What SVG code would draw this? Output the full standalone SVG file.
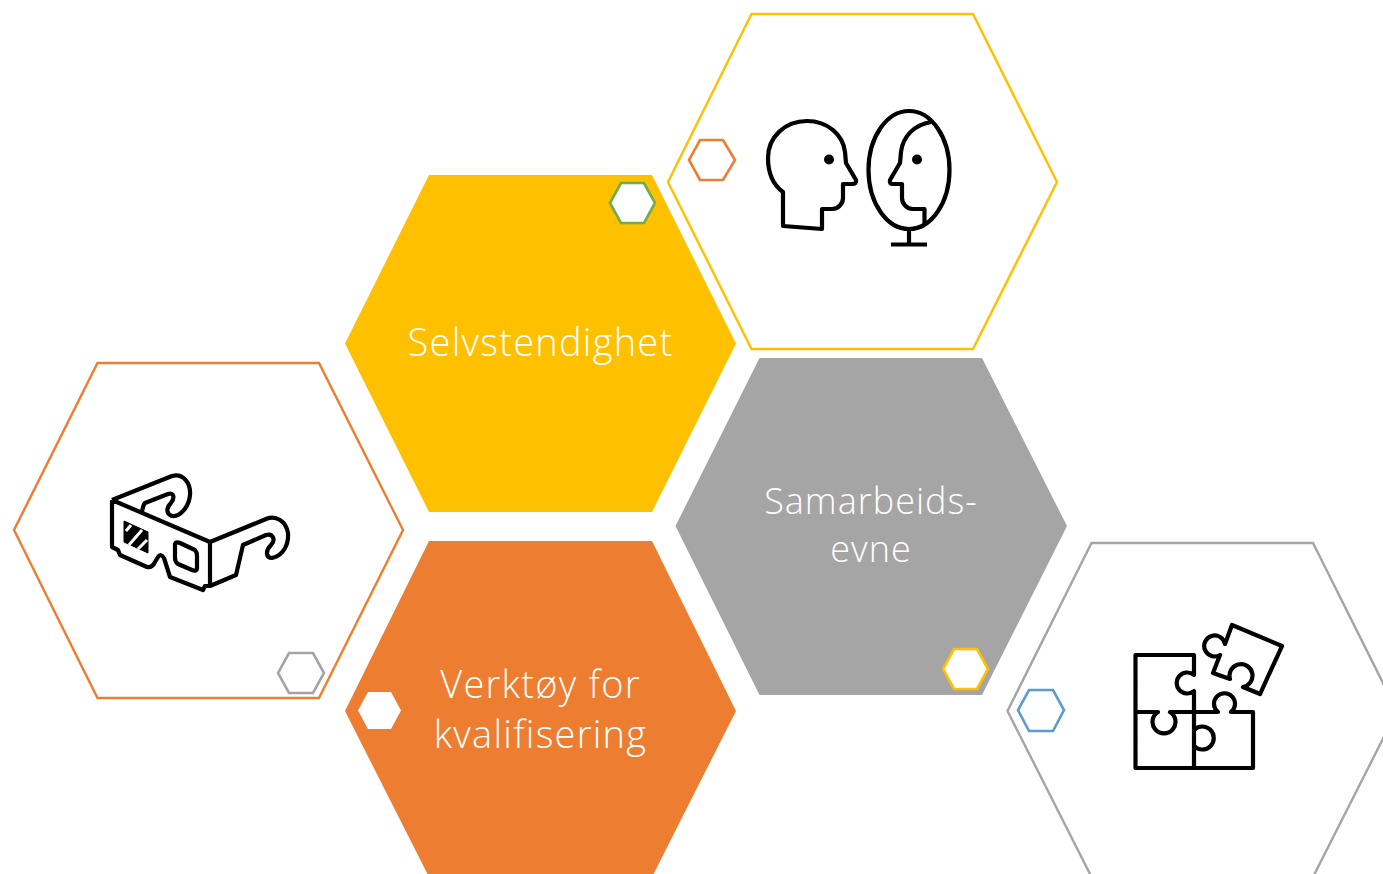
<svg xmlns="http://www.w3.org/2000/svg" width="1383" height="874" viewBox="0 0 1383 874">
<style>
.o{fill:#fff;stroke-width:2.4}
.s{fill:#fff;stroke-width:2.6}
.i{fill:none;stroke:#000;stroke-width:4.2;stroke-linejoin:round;stroke-linecap:butt}
.t{font-family:"Open Sans","Noto Sans",sans-serif;font-weight:300;fill:#fff;text-anchor:middle}
.a{font-size:38px;letter-spacing:1.25px}
.b{font-size:36px;letter-spacing:1px}
</style>
<rect width="1383" height="874" fill="#fff"/>
<g id="node-speil">
<polygon class="o" stroke="#FFC000" points="751.500,14 973,14 1057,182 973,349 751.500,349 668,182"/>
<g id="icon-speil">
<path class="i" d="M783,226V192C772,184 768,172 768,158C768,137 785,121 807,121C828,121 843,135 845,152L846,163L856,180Q857,184 852,184H843V198C843,204 838,209 832,209H822V229Z"/>
<ellipse class="i" cx="909" cy="170" rx="40.500" ry="59"/>
<path class="i" d="M931,122C914,125 903,136 901,152L900,163L890,180Q889,184 893,184H902V198C902,204 907,209 913,209H924.500V224M909,229V244.500M891,244.500H927"/>
<circle cx="829" cy="159.500" r="5"/>
<circle cx="917" cy="159.500" r="5"/>
</g>
</g>
<g id="node-selvstendighet">
<polygon fill="#FFC000" points="429,175 652,175 736,343.500 652,512 429,512 345,343.500"/>
<text class="t a" x="540.500" y="355.700">Selvstendighet</text>
</g>
<g id="node-samarbeidsevne">
<polygon fill="#A5A5A5" points="759.500,358 982,358 1067,526 982,695 759.500,695 675.500,526"/>
<text class="t b" x="871" y="513.700">Samarbeids-</text>
<text class="t b" x="871" y="561.700">evne</text>
</g>
<g id="node-verktoy">
<polygon fill="#ED7D31" points="429,541 652,541 736,711 652,877 429,877 345,711"/>
<text class="t a" x="540.500" y="697.700">Verktøy for</text>
<text class="t a" x="540.500" y="747.700">kvalifisering</text>
</g>
<g id="node-briller">
<polygon class="o" stroke="#ED7D31" points="97.500,363 319,363 403,530 319,698 97.500,698 14,530"/>
<g id="icon-briller">
<path class="i" d="M112,500L210,542V586M112,500V547L118,550L120,555L147,567Q152,568 155,562L158,557Q161,553 164,558L170,577L198,588L203,590L205,586L210,586L236,575L243,545L266,535C273,533 276,540 271,545C265,551 266,558 272,558C282,556 289,546 288,533C286,521 276,515 266,519L210,542"/>
<path class="i" d="M112,500L172,476C183,473 191,483 190,495C189,507 180,517 172,516C166,514 166,508 171,503C175,498 174,492 168,494L145,503Q143,505 142,512"/>
<polygon points="124,521 148,532 148,553 124,542" fill="#000" stroke="#000" stroke-width="1"/>
<path d="M126,531L131,525M129,545L142,530M138,549L147,540" stroke="#fff" stroke-width="3" fill="none"/>
<path class="i" d="M175,545Q175,541 180,543L195,550Q197,552 197,556V568Q197,572 192,570L178,564Q175,562 175,558Z"/>
</g>
</g>
<g id="node-puslespill">
<polygon class="o" stroke="#A5A5A5" points="1091.500,543 1313,543 1397,711 1313,877 1091.500,877 1007.500,711"/>
<g id="icon-puslespill">
<path class="i" d="M1135.500,655H1194V675A10.500,10.500 0 1 0 1194,691V768H1135.500ZM1135.500,712H1158A11.500,11.500 0 1 0 1170,712H1218A10.500,10.500 0 1 1 1231,712H1253V768H1194V746A11.500,11.500 0 1 0 1194,730"/>
<path class="i" d="M1232,625L1282,646L1260,694L1243,687A11.500,11.500 0 1 0 1230,679L1213,673L1220,655A10.500,10.500 0 1 1 1225,644Z"/>
</g>
</g>
<g id="badges">
<polygon class="s" stroke="#ED7D31" points="700,140 723,140 735,160 723,180 700,180 689,160"/>
<polygon class="s" stroke="#70AD47" points="621,183 644,183 655,203 644,223 621,223 610,203"/>
<polygon class="s" stroke="#A5A5A5" points="289,653 313,653 324,673 313,693 289,693 278,673"/>
<polygon class="s" stroke="#FFC000" points="954,649 977,649 988,669 977,689 954,689 943,669"/>
<polygon class="s" stroke="#5B9BD5" points="1029,690 1053,690 1064,710 1053,731 1029,731 1018,710"/>
<polygon fill="#fff" points="368,692 391,692 401,710.500 391,729 368,729 358,710.500"/>
</g>
<g id="connectors"></g>
</svg>
